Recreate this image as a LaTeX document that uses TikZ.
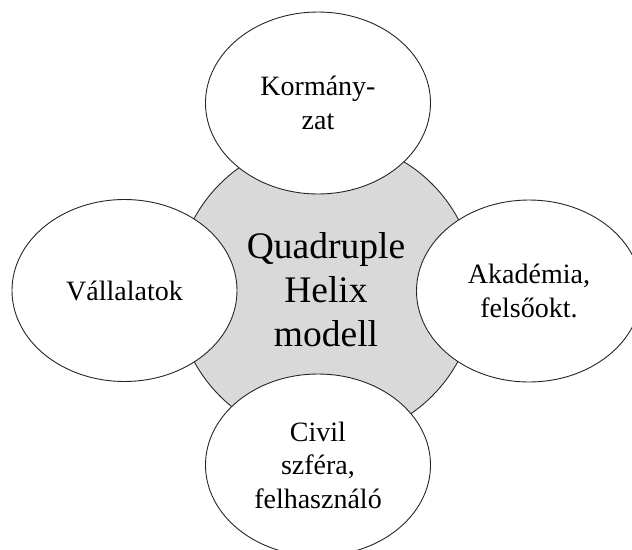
\documentclass[tikz,border=0pt]{standalone}
\usepackage{fontspec}
\setmainfont{Liberation Serif}
\usetikzlibrary{shapes}
\usetikzlibrary{positioning}

\begin{document}
\begin{tikzpicture}[x=1pt, y=-1pt]
  \tikzset{
    helix/.style={ellipse, draw=black!85, line width=0.9pt, fill=white,
      minimum width=225pt, minimum height=182pt, inner sep=0pt, align=center,
      font=\fontsize{28}{33.5}\selectfont},
    hub/.style={circle, draw=black!85, line width=0.9pt, fill=black!15,
      minimum size=300pt, inner sep=0pt, align=center,
      font=\fontsize{37.5}{44}\selectfont}
  }
  \useasboundingbox (0,0) rectangle (632,549);
  \clip (0,0) rectangle (632,549);

%%%%%%%%%%%% Model
  \node[hub] (model) at (326, 290) {Quadruple\\Helix\\modell};

%%%%%%%%%%%% Helices
  \node[helix] (korm) at (318, 103) {Kormány-\\zat};
  \node[helix] (vall) at (124.5, 290.5) {Vállalatok};
  \node[helix] (akad) at (529, 291) {Akadémia,\\felsőokt.};
  \node[helix] (civil) at (318, 465) {Civil\\szféra,\\felhasználó};
\end{tikzpicture}
\end{document}
